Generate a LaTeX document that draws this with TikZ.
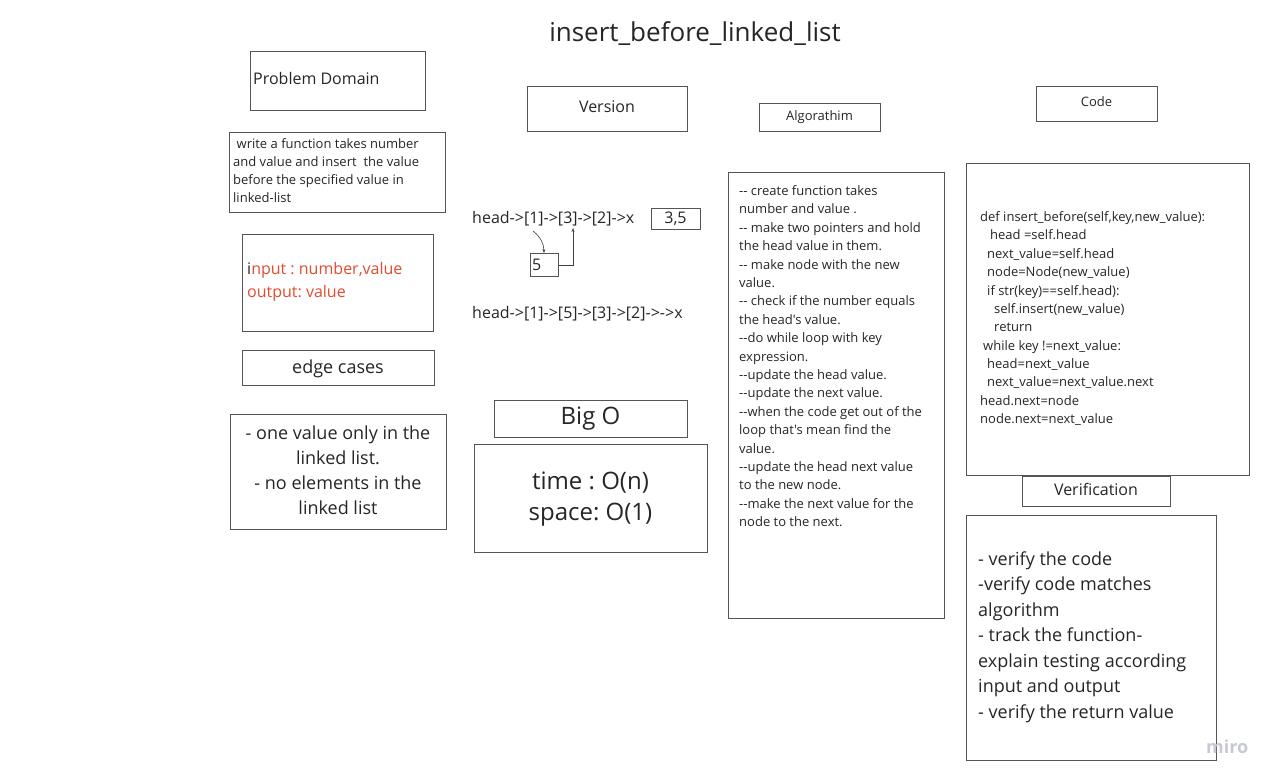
\documentclass[tikz,border=0pt]{standalone}
\usepackage{fontspec}
\setmainfont{Open Sans}[Ligatures=TeXOff]
\usepackage{xcolor}
\usetikzlibrary{arrows.meta, positioning}
\definecolor{framegray}{RGB}{85, 85, 85}
\definecolor{ioorange}{RGB}{226, 76, 48}
\definecolor{marklight}{RGB}{200, 202, 210}
\frenchspacing

\newcommand{\fsz}[2]{\fontsize{#1}{#2}\selectfont}
\tikzset{
  frame/.style={draw=framegray, line width=1pt, inner sep=0pt, anchor=north west},
  txt/.style={inner sep=0pt, anchor=base west, align=left, text=black!85},
  ctxt/.style={inner sep=0pt, anchor=base, align=center, text=black!85},
  pointer/.style={draw=black!75, line width=0.6pt, -{Stealth[length=4pt, width=3pt]}}
}

\begin{document}
\begin{tikzpicture}[x=1pt, y=-1pt]
    \useasboundingbox[fill=white] (0,0) rectangle (1277,782);

    % Title (multi-line texts sit on the baseline of their last line)
    \node[ctxt, font=\fsz{26}{30}] (title) at (695,41.5) {insert\_before\_linked\_list};

    % Problem domain column
    \node[frame, minimum width=175, minimum height=59] (pdbox) at (250,51) {};
    \node[txt, font=\fsz{16}{20}] (pdlabel) at (253,84.5) {Problem Domain};

    \node[frame, minimum width=216, minimum height=80] (descbox) at (229,132) {};
    \node[txt, font=\fsz{13}{18}] (desc) at (233,202.5) {\hspace*{3.5pt}write a function takes number\\and value and insert\hspace*{3.5pt} the value\\before the specified value in\\linked-list};

    \node[frame, minimum width=191, minimum height=97] (iobox) at (242,234) {};
    \node[txt, font=\fsz{16}{23}, text=ioorange] (io) at (247,297.5) {\textcolor{black!85}{i}nput : number,value\\output: value};

    \node[frame, minimum width=192, minimum height=35] (edgebox) at (242,350) {};
    \node[ctxt, font=\fsz{18}{22}] (edgelabel) at (338,373) {edge cases};

    \node[frame, minimum width=216, minimum height=115] (casebox) at (230,414) {};
    \node[ctxt, font=\fsz{18}{25}] (cases) at (338,514) {- one value only in the\\linked list.\\- no elements in the\\linked list};

    % Version column
    \node[frame, minimum width=160, minimum height=45] (verbox) at (527,86) {};
    \node[ctxt, font=\fsz{16}{20}] (verlabel) at (607,112.5) {Version};

    \node[txt, font=\fsz{16}{20}] (before) at (472,223.5) {head->[1]->[3]->[2]->x};
    \node[frame, minimum width=49, minimum height=21] (argbox) at (651,208) {};
    \node[ctxt, font=\fsz{16}{20}] (args) at (675.5,223.5) {3,5};

    \node[frame, minimum width=28, minimum height=23] (newbox) at (530,253) {};
    \node[txt, font=\fsz{16}{20}] (newval) at (532,270.5) {5};

    \coordinate (one) at (533,231);
    \coordinate (three) at (573,228);
    \draw[pointer] (one) to[bend left=25] (newbox.north -| 544,0);
    \draw[pointer] (newbox.east) -| (three);

    \node[txt, font=\fsz{16}{20}] (after) at (472,318.5) {head->[1]->[5]->[3]->[2]->->x};

    \node[frame, minimum width=193, minimum height=37] (bigobox) at (494,399.5) {};
    \node[ctxt, font=\fsz{24}{28}] (bigolabel) at (590.5,424.5) {Big O};

    \node[frame, minimum width=233, minimum height=108] (costbox) at (474,444) {};
    \node[ctxt, font=\fsz{24}{31}] (cost) at (590.5,520.5) {time : O(n)\\space: O(1)};

    % Algorithm column
    \node[frame, minimum width=121, minimum height=28] (algbox) at (759,103) {};
    \node[ctxt, font=\fsz{13}{16}] (alglabel) at (819.5,120.5) {Algorathim};

    \node[frame, minimum width=216, minimum height=446] (stepsbox) at (728,172) {};
    \node[txt, font=\fsz{13}{18.4}] (steps) at (739,526.7) {-- create function takes\\number and value .\\-- make two pointers and hold\\the head value in them.\\-- make node with the new\\value.\\-- check if the number equals\\the head's value.\\--do while loop with key\\expression.\\--update the head value.\\--update the next value.\\--when the code get out of the\\loop that's mean find the\\value.\\--update the head next value\\to the new node.\\--make the next value for the\\node to the next.};

    % Code column
    \node[frame, minimum width=121, minimum height=35] (codebox) at (1036,86) {};
    \node[ctxt, font=\fsz{13}{16}] (codelabel) at (1096.5,106.5) {Code};

    \node[frame, minimum width=283, minimum height=312] (srcbox) at (966,163) {};
    \node[txt, font=\fsz{13}{18.37}] (src) at (980,423.6) {def insert\_before(self,key,new\_value):\\
      \hspace*{10pt}head =self.head\\
      \hspace*{7pt}next\_value=self.head\\
      \hspace*{7pt}node=Node(new\_value)\\
      \hspace*{7pt}if str(key)==self.head):\\
      \hspace*{14pt}self.insert(new\_value)\\
      \hspace*{14pt}return\\
      \hspace*{3pt}while key !=next\_value:\\
      \hspace*{7pt}head=next\_value\\
      \hspace*{7pt}next\_value=next\_value.next\\
      head.next=node\\
      node.next=next\_value};

    \node[frame, minimum width=148, minimum height=30] (verifbox) at (1022,476) {};
    \node[ctxt, font=\fsz{16}{20}] (veriflabel) at (1096,495.5) {Verification};

    \node[frame, minimum width=250, minimum height=245] (checkbox) at (966,515) {};
    \node[txt, font=\fsz{18}{25.5}] (checks) at (978,718) {- verify the code\\-verify code matches\\algorithm\\- track the function-\\explain testing according\\input and output\\- verify the return value};

    % Watermark
    \node[txt, font=\fsz{18}{20}\bfseries, text=marklight] (mark) at (1206,753) {miro};
\end{tikzpicture}
\end{document}
